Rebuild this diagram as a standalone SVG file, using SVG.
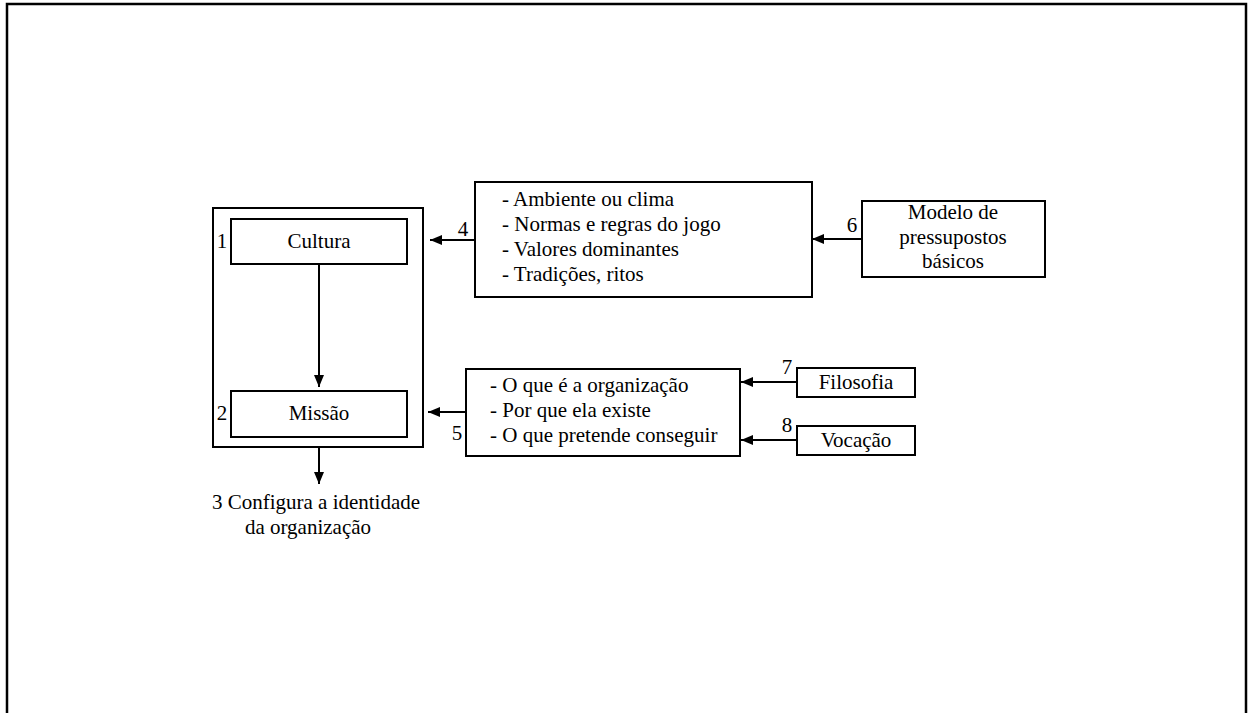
<svg xmlns="http://www.w3.org/2000/svg" width="1248" height="713" viewBox="0 0 1248 713">
<style>
  .box { fill: #fff; stroke: #000; stroke-width: 2; }
  .t { font-family: "Liberation Serif", "Times New Roman", serif; font-size: 21px; fill: #000; }
  .c { text-anchor: middle; }
  .edge { stroke: #000; stroke-width: 2; fill: none; marker-end: url(#ah); }
</style>
<defs>
  <marker id="ah" viewBox="0 0 12 10" refX="12" refY="5" markerWidth="12" markerHeight="10" markerUnits="userSpaceOnUse" orient="auto">
    <path d="M0,0 L12,5 L0,10 Z" fill="#000"/>
  </marker>
</defs>
<rect x="0" y="0" width="1248" height="713" fill="#fff"/>
<rect id="frame" x="7" y="4" width="1239" height="720" fill="none" stroke="#000" stroke-width="2.5"/>

<g id="container">
  <rect class="box" x="213" y="208" width="210" height="239"/>
</g>
<g id="cultura">
  <rect class="box" x="231" y="219" width="176" height="45"/>
  <text class="t c" x="319" y="248">Cultura</text>
  <text class="t c" x="222" y="248">1</text>
</g>
<g id="missao">
  <rect class="box" x="231" y="391" width="176" height="46"/>
  <text class="t c" x="319" y="420">Missão</text>
  <text class="t c" x="222" y="420">2</text>
</g>
<g id="identidade">
  <text class="t c" x="316" y="509">3 Configura a identidade</text>
  <text class="t c" x="308" y="534">da organização</text>
</g>
<g id="ambiente">
  <rect class="box" x="475" y="182" width="337" height="115"/>
  <text class="t" x="502" y="206">- Ambiente ou clima</text>
  <text class="t" x="502" y="231">- Normas e regras do jogo</text>
  <text class="t" x="502" y="256">- Valores dominantes</text>
  <text class="t" x="502" y="281">- Tradições, ritos</text>
</g>
<g id="pressupostos">
  <rect class="box" x="862" y="201" width="183" height="76"/>
  <text class="t c" x="953" y="219">Modelo de</text>
  <text class="t c" x="953" y="244">pressupostos</text>
  <text class="t c" x="953" y="268">básicos</text>
</g>
<g id="organizacao">
  <rect class="box" x="466" y="369" width="274" height="87"/>
  <text class="t" x="490" y="392">- O que é a organização</text>
  <text class="t" x="490" y="417">- Por que ela existe</text>
  <text class="t" x="490" y="442">- O que pretende conseguir</text>
</g>
<g id="filosofia">
  <rect class="box" x="797" y="368" width="118" height="29"/>
  <text class="t c" x="856" y="389">Filosofia</text>
</g>
<g id="vocacao">
  <rect class="box" x="797" y="426" width="118" height="29"/>
  <text class="t c" x="856" y="447">Vocação</text>
</g>

<g id="connectors">
  <line class="edge" x1="319" y1="264" x2="319" y2="387"/>
  <line class="edge" x1="319" y1="447" x2="319" y2="484"/>
  <line class="edge" x1="475" y1="240" x2="430" y2="240"/>
  <line class="edge" x1="466" y1="412" x2="428" y2="412"/>
  <line class="edge" x1="862" y1="239" x2="812" y2="239"/>
  <line class="edge" x1="797" y1="382" x2="741" y2="382"/>
  <line class="edge" x1="797" y1="440" x2="741" y2="440"/>
  <text class="t c" x="463" y="236">4</text>
  <text class="t c" x="457" y="440">5</text>
  <text class="t c" x="852" y="232">6</text>
  <text class="t c" x="787" y="374">7</text>
  <text class="t c" x="787" y="432">8</text>
</g>
</svg>
